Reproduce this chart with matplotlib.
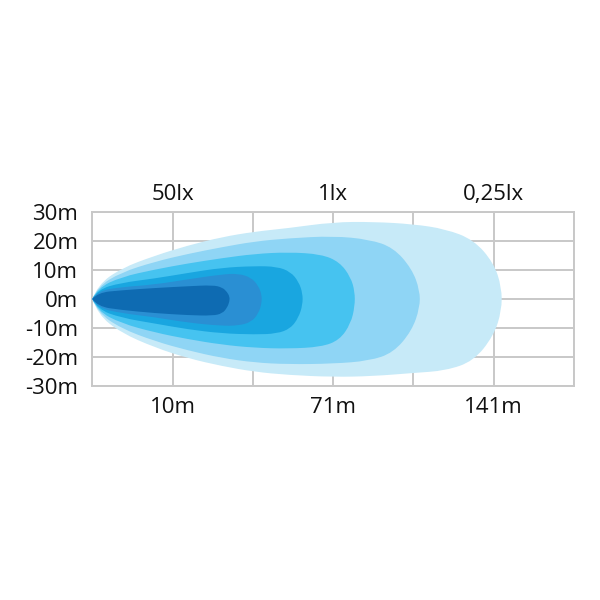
import matplotlib.pyplot as plt
from matplotlib.path import Path
from matplotlib.patches import PathPatch

# x in grid columns (0..6), y in metres; outline = top edge out, bottom edge back
distance_labels = ["10m", "71m", "141m"]
lux_labels = ["50lx", "1lx", "0,25lx"]
label_pos = [1, 3, 5]
y_ticks = [30, 20, 10, 0, -10, -20, -30]
y_labels = ["30m", "20m", "10m", "0m", "-10m", "-20m", "-30m"]

colors = ["#C7EAF8", "#8FD5F5", "#46C3F0", "#19A6E0", "#2A8FD3", "#0E6BB2"]

zone_x = [
    [0, 0.07, 0.36, 0.78, 1.19, 1.61, 2.02, 2.44, 3.0, 3.5, 4.0, 4.4, 4.75, 5.0, 5.1, 5.1,
     5.0, 4.75, 4.4, 4.0, 3.5, 3.0, 2.44, 2.02, 1.61, 1.19, 0.78, 0.36, 0.07, 0],
    [0, 0.07, 0.36, 0.78, 1.19, 1.61, 2.02, 2.44, 3.0, 3.45, 3.75, 3.98, 4.08, 4.08,
     3.98, 3.75, 3.45, 3.0, 2.44, 2.02, 1.61, 1.19, 0.78, 0.36, 0.07, 0],
    [0, 0.07, 0.36, 0.78, 1.19, 1.61, 2.02, 2.44, 2.85, 3.08, 3.22, 3.27, 3.27,
     3.22, 3.08, 2.85, 2.44, 2.02, 1.61, 1.19, 0.78, 0.36, 0.07, 0],
    [0, 0.07, 0.36, 0.78, 1.19, 1.61, 2.02, 2.3, 2.47, 2.57, 2.62, 2.62,
     2.57, 2.47, 2.3, 2.02, 1.61, 1.19, 0.78, 0.36, 0.07, 0],
    [0, 0.07, 0.36, 0.78, 1.19, 1.61, 1.82, 1.98, 2.07, 2.11, 2.11,
     2.07, 1.98, 1.82, 1.61, 1.19, 0.78, 0.36, 0.07, 0],
    [0, 0.07, 0.36, 0.78, 1.19, 1.5, 1.62, 1.68, 1.71, 1.71,
     1.68, 1.62, 1.5, 1.19, 0.78, 0.36, 0.07, 0],
]
zone_y = [
    [0, 4.9, 10.6, 15.0, 18.5, 21.4, 23.3, 24.5, 26.6, 26.7, 25.9, 24.2, 20.5, 12.5, 4, -4,
     -12.7, -21.5, -24.8, -25.6, -26.7, -27.0, -26.3, -25.2, -23.2, -20.5, -16.8, -11.7, -5.4, 0],
    [0, 4.3, 9.2, 12.9, 15.6, 17.9, 19.9, 21.0, 21.8, 20.6, 17.8, 10.5, 3, -3,
     -11.0, -18.6, -21.4, -22.4, -22.6, -22.0, -20.4, -17.8, -14.6, -10.2, -4.7, 0],
    [0, 3.8, 7.6, 10.2, 12.3, 14.1, 15.6, 16.2, 15.5, 12.8, 7.5, 2.5, -2.5,
     -8.5, -14.2, -16.6, -17.2, -16.9, -15.8, -13.9, -11.6, -8.4, -4.2, 0],
    [0, 3.3, 5.6, 7.1, 9.0, 10.8, 11.4, 11.2, 9.4, 6.0, 2.0, -2.0,
     -6.4, -10.2, -12.0, -12.3, -11.9, -10.5, -8.5, -6.5, -3.6, 0],
    [0, 2.8, 4.1, 5.0, 6.8, 8.5, 8.8, 7.4, 4.5, 1.5, -1.5,
     -5.0, -8.0, -9.2, -9.3, -8.2, -6.3, -4.9, -3.1, 0],
    [0, 2.2, 3.0, 3.8, 4.4, 4.8, 4.0, 2.4, 0.8, -0.8,
     -3.0, -5.0, -5.8, -5.6, -4.9, -3.8, -2.6, 0],
]


def smooth_path(xs, ys):
    # quadratic curves through the midpoints, starting and ending at the lamp
    pts = list(zip(xs, ys))
    verts = [pts[0]]
    codes = [Path.MOVETO]
    for i in range(1, len(pts) - 2):
        mid = ((pts[i][0] + pts[i + 1][0]) / 2, (pts[i][1] + pts[i + 1][1]) / 2)
        verts += [pts[i], mid]
        codes += [Path.CURVE3, Path.CURVE3]
    verts += [pts[-2], pts[-1]]
    codes += [Path.CURVE3, Path.CURVE3]
    return Path(verts, codes)


fig = plt.figure(figsize=(6, 6), dpi=100)
ax = fig.add_axes([0.1538, 0.3572, 0.8028, 0.289])

for xs, ys, c in zip(zone_x, zone_y, colors):
    ax.add_patch(PathPatch(smooth_path(xs, ys), facecolor=c, edgecolor="none", zorder=2))

ax.set_xlim(0, 6)
ax.set_ylim(-30, 30)
ax.set_xticks(range(7))
ax.set_xticklabels(["", distance_labels[0], "", distance_labels[1], "", distance_labels[2], ""])
ax.set_yticks(y_ticks)
ax.set_yticklabels(y_labels)
ax.grid(True, color="#C8C8C8", linewidth=1.4, zorder=0)
ax.set_axisbelow(True)
for s in ax.spines.values():
    s.set_color("#C8C8C8")
    s.set_linewidth(1.4)
    s.set_zorder(1)
ax.tick_params(length=0, labelsize=16, colors="#111111")
ax.tick_params(axis="x", pad=8)
ax.tick_params(axis="y", pad=10)

top = ax.secondary_xaxis("top")
top.set_xticks(label_pos)
top.set_xticklabels(lux_labels)
top.tick_params(length=0, labelsize=16, pad=5, colors="#111111")
top.spines["top"].set_visible(False)

for t in ax.get_xticklabels() + ax.get_yticklabels() + top.get_xticklabels():
    t.set_family(["Open Sans", "DejaVu Sans"])

fig.savefig("out.png", dpi=100, facecolor="white")
